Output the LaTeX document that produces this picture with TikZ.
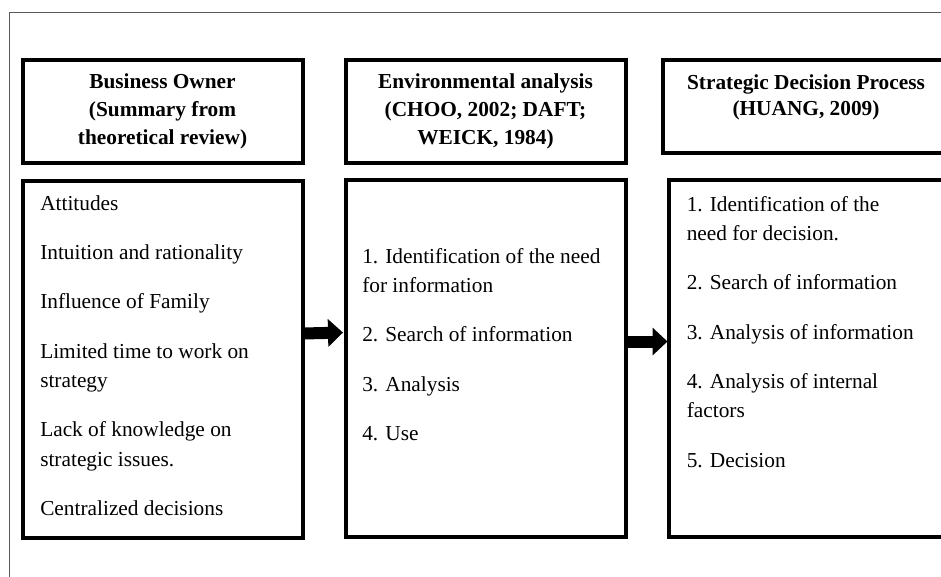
\documentclass[tikz,border=0pt]{standalone}
\usepackage{fontspec}
\setmainfont{Liberation Serif}
\usetikzlibrary{arrows.meta,positioning,calc}

\newlength{\pxu}
\setlength{\pxu}{0.75pt}

\begin{document}
\begin{tikzpicture}[x=0.75pt, y=-0.75pt,
          head/.style  = {draw, line width=3pt, outer sep=0pt, minimum width=280\pxu,
                          minimum height=103\pxu, align=center,
                          font=\fontsize{16}{21}\selectfont\bfseries},
          body/.style  = {draw, line width=3pt, outer sep=0pt, minimum width=280\pxu,
                          minimum height=356.5\pxu},
          items/.style = {align=left, inner sep=0pt, font=\fontsize{16}{22}\selectfont},
          fat/.style   = {line width=9pt, -{Triangle[length=11.25pt, width=20.25pt]}}
        ]
        \useasboundingbox (0,0) rectangle (941,576);
        \clip (0,0) rectangle (941,576);

        % --- frame
        \draw[black!65, line width=0.75pt] (9,12) rectangle (960,600);

        % --- headers
        \node[head, anchor=north west] (t1) at (22.5,59.5)
              {Business Owner\\(Summary from\\theoretical review)};
        \node[head, right=43\pxu of t1] (t2)
              {Environmental analysis\\(CHOO, 2002; DAFT;\\WEICK, 1984)};
        \node[head, right=37.5\pxu of t2.north east, anchor=north west,
              minimum width=286\pxu, minimum height=93\pxu, text depth=21\pxu,
              font=\fontsize{16}{19.5}\selectfont\bfseries] (t3)
              {Strategic Decision Process\\(HUANG, 2009)};

        % --- content boxes
        \node[body, below=18.5\pxu of t1] (c1) {};
        \node[body, below=17.5\pxu of t2] (c2) {};
        \node[body, right=43.5\pxu of c2, minimum width=290\pxu] (c3) {};

        % --- lists
        \node[items, below right=14\pxu and 17.5\pxu of c1.north west] (l1)
              {Attitudes\\[15pt]
               Intuition and rationality\\[15pt]
               Influence of Family\\[15pt]
               Limited time to work on\\strategy\\[15pt]
               Lack of knowledge on\\strategic issues.\\[15pt]
               Centralized decisions};
        \node[items, below right=68\pxu and 16.5\pxu of c2.north west] (l2)
              {1. Identification of the need\\for information\\[15pt]
               2. Search of information\\[15pt]
               3. Analysis\\[15pt]
               4. Use};
        \node[items, below right=16\pxu and 17.5\pxu of c3.north west] (l3)
              {1. Identification of the\\need for decision.\\[15pt]
               2. Search of information\\[15pt]
               3. Analysis of information\\[15pt]
               4. Analysis of internal\\factors\\[15pt]
               5. Decision};

        % --- arrows
        \draw[fat, shorten >=2.5\pxu] ([yshift=25.75\pxu]c1.east) -- ([yshift=25.75\pxu]c2.west);
        \draw[fat, shorten >=1.5\pxu] ([yshift=16.75\pxu]c2.east) -- ([yshift=16.75\pxu]c3.west);
    \end{tikzpicture}
\end{document}
